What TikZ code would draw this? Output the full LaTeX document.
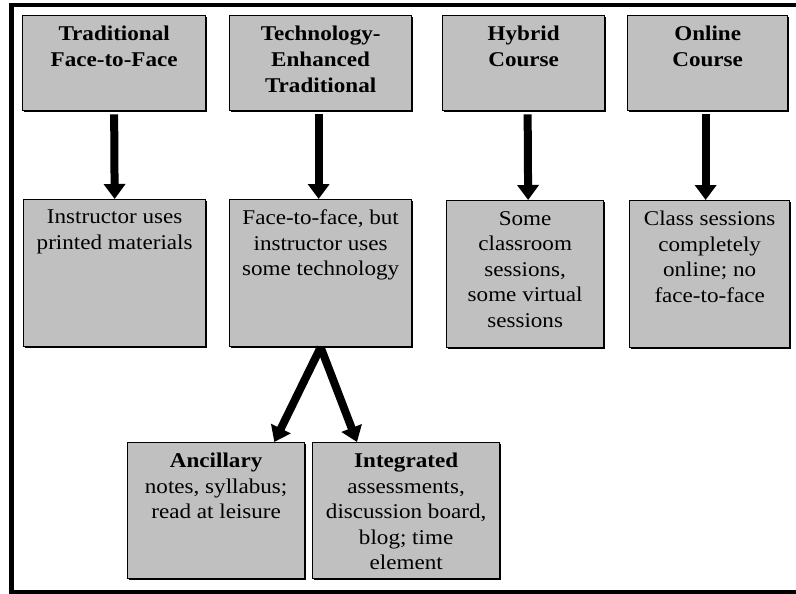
\documentclass[tikz,border=0pt]{standalone}
\usepackage{fontspec}
\setmainfont{Liberation Serif}[FakeStretch=1.1]
\usetikzlibrary{arrows.meta,calc,shadows}
\definecolor{boxgray}{HTML}{C0C0C0}
\tikzset{
  box/.style={draw=black, line width=1.3pt, fill=boxgray, anchor=north west, inner sep=0pt,
    drop shadow={shadow xshift=1.3pt, shadow yshift=-1.3pt, fill=black, opacity=1}},
  txt/.style={anchor=north, inner sep=0pt, align=center, font=\fontsize{21}{25.5}\selectfont},
  arr/.style={line width=8pt, -{Triangle[width=21pt,length=15pt]}}
}
\begin{document}
\begin{tikzpicture}[x=1pt,y=-1pt]
\useasboundingbox (0,0) rectangle (796,594);
\draw[line width=4.6pt, line join=miter] (796,5) -- (11.5,5) -- (11.5,592) -- (796,592);
% top row
\node[box, minimum width=183pt, minimum height=95pt] (T1) at (22,15) {};
\node[box, minimum width=182pt, minimum height=95pt] (T2) at (229,15) {};
\node[box, minimum width=162pt, minimum height=95pt] (T3) at (442,15) {};
\node[box, minimum width=160pt, minimum height=95pt] (T4) at (627,15) {};
% second row
\node[box, minimum width=182pt, minimum height=147pt] (B1) at (23,199) {};
\node[box, minimum width=182pt, minimum height=147pt] (B2) at (229,199) {};
\node[box, minimum width=157pt, minimum height=147pt] (B3) at (446,200) {};
\node[box, minimum width=160pt, minimum height=147pt] (B4) at (629,200) {};
% third row
\node[box, minimum width=177pt, minimum height=136pt] (A) at (127,442) {};
\node[box, minimum width=187pt, minimum height=136pt] (I) at (312,442) {};
% texts
\node[txt, font=\fontsize{21}{26}\selectfont\bfseries] (tT1) at ([yshift=-11pt]T1.north) {Traditional\\Face-to-Face};
\node[txt, font=\fontsize{21}{26}\selectfont\bfseries] (tT2) at ([yshift=-11pt]T2.north) {Technology-\\Enhanced\\Traditional};
\node[txt, font=\fontsize{21}{26}\selectfont\bfseries] (tT3) at ([yshift=-11pt]T3.north) {Hybrid\\Course};
\node[txt, font=\fontsize{21}{26}\selectfont\bfseries] (tT4) at ([yshift=-11pt]T4.north) {Online\\Course};
\node[txt] (tB1) at ([yshift=-11pt]B1.north) {Instructor uses\\printed materials};
\node[txt] (tB2) at ([yshift=-11pt]B2.north) {Face-to-face, but\\instructor uses\\some technology};
\node[txt] (tB3) at ([yshift=-11pt]B3.north) {Some\\classroom\\sessions,\\some virtual\\sessions};
\node[txt] (tB4) at ([yshift=-11pt]B4.north) {Class sessions\\completely\\online; no\\face-to-face};
\node[txt] (tA) at ([yshift=-11pt]A.north) {\textbf{Ancillary}\\notes, syllabus;\\read at leisure};
\node[txt] (tI) at ([yshift=-11pt]I.north) {\textbf{Integrated}\\assessments,\\discussion board,\\blog; time\\element};
% arrows
\draw[arr] ([yshift=-3pt]T1.south) -- (B1.north);
\draw[arr] ([xshift=-2pt,yshift=-3pt]T2.south) -- ([xshift=-2pt]B2.north);
\draw[arr] ([xshift=4pt,yshift=-3pt]T3.south) -- ([xshift=3pt]B3.north);
\draw[arr] ([xshift=-2pt,yshift=-3pt]T4.south) -- ([xshift=-4pt]B4.north);
\draw[arr] (B2.south) -- ([xshift=-31pt]A.north east);
\draw[arr] (B2.south) -- ([xshift=45pt]I.north west);
\end{tikzpicture}
\end{document}
